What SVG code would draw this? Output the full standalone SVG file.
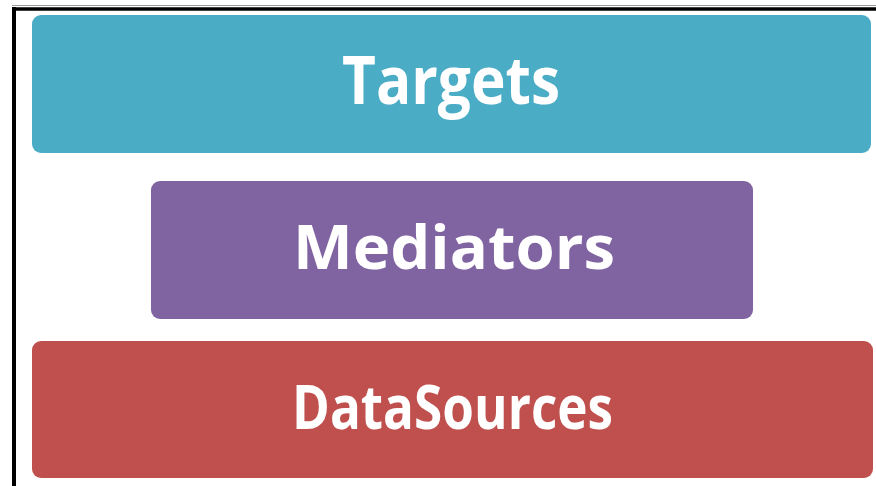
<svg xmlns="http://www.w3.org/2000/svg" width="876" height="486" viewBox="0 0 876 486">
<style>
.lbl{font-family:"Open Sans","Liberation Sans",sans-serif;font-weight:bold;fill:#ffffff;text-anchor:middle}
</style>
<rect x="0" y="0" width="876" height="486" fill="#ffffff"/>
<line x1="12" y1="5.5" x2="876" y2="5.5" stroke="#9a9a9a" stroke-width="1"/>
<line x1="12" y1="9" x2="876" y2="9" stroke="#000" stroke-width="3.5"/>
<line x1="14" y1="7" x2="14" y2="486" stroke="#000" stroke-width="4"/>
<g id="targets">
<rect x="32" y="15" width="839" height="138" rx="9" fill="#4BACC6"/>
<text class="lbl" x="451" y="104" font-size="66" textLength="218" lengthAdjust="spacingAndGlyphs">Targets</text>
</g>
<g id="mediators">
<rect x="151" y="181" width="602" height="138" rx="9" fill="#8064A2"/>
<text class="lbl" x="454" y="269" font-size="60" textLength="322" lengthAdjust="spacingAndGlyphs">Mediators</text>
</g>
<g id="datasources">
<rect x="32" y="341" width="841" height="137" rx="9" fill="#C0504D"/>
<text class="lbl" x="452.5" y="429" font-size="60" textLength="321" lengthAdjust="spacingAndGlyphs">DataSources</text>
</g>
<g id="connectors"></g>
</svg>
